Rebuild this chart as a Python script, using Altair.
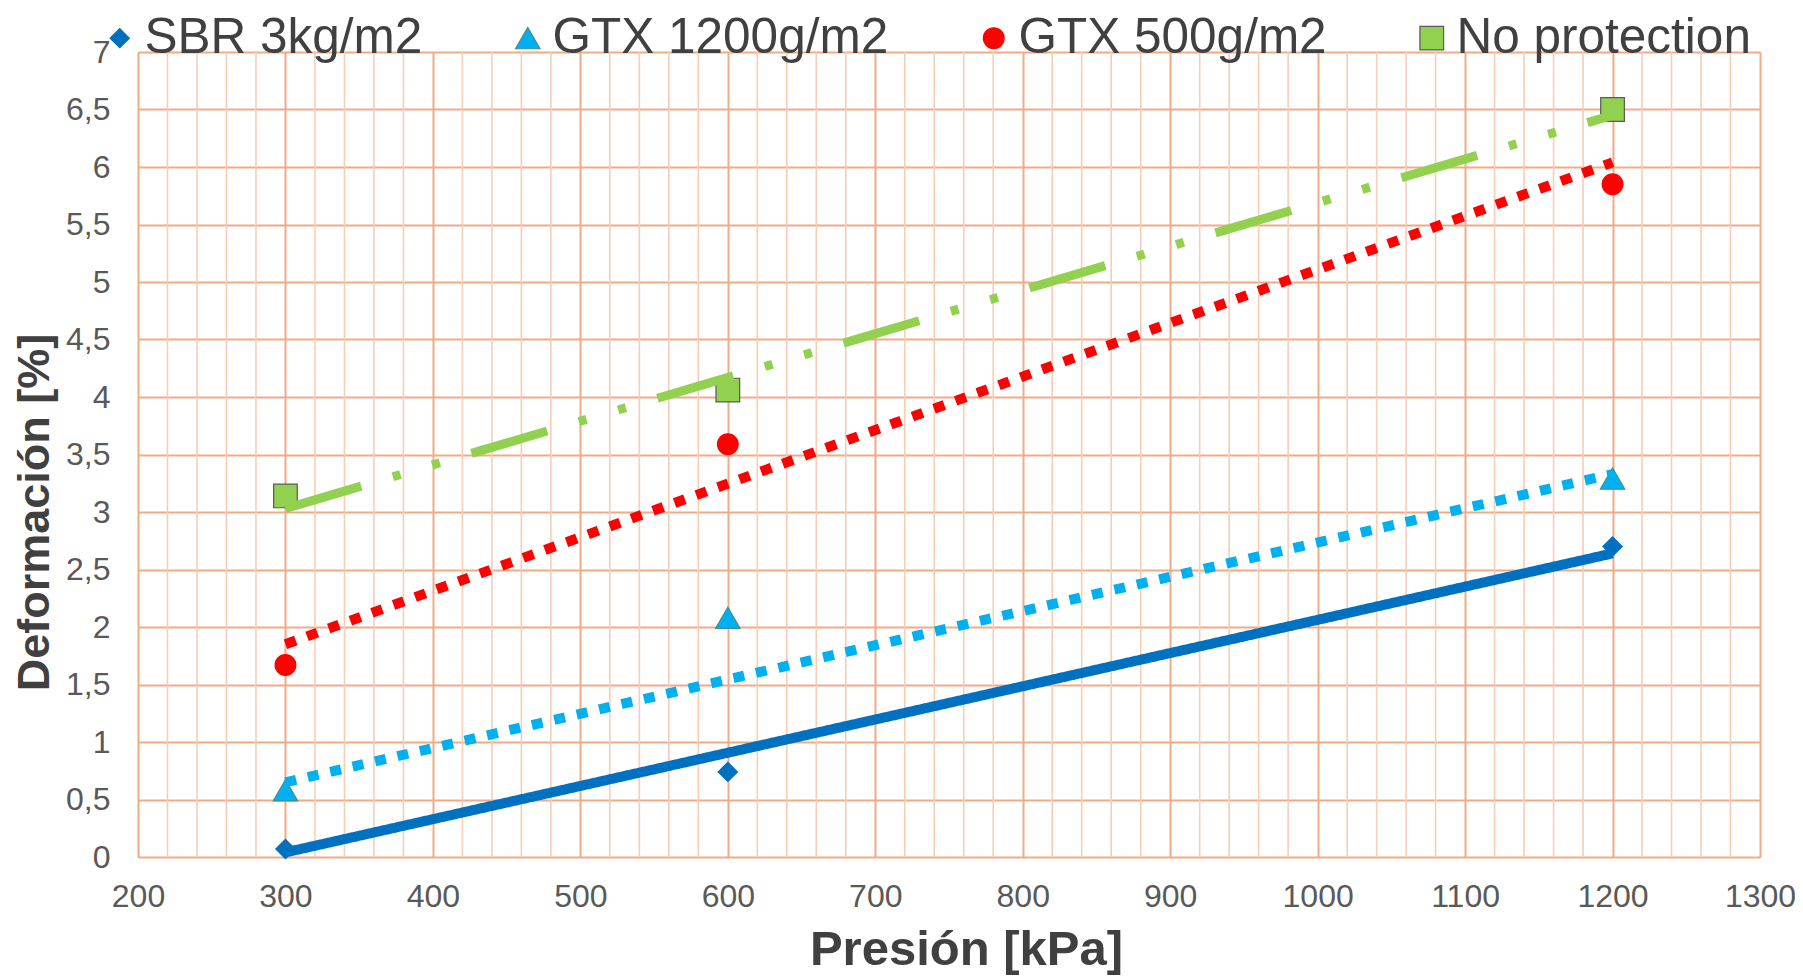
import altair as alt
import pandas as pd

# ---- data ----
series = ["SBR 3kg/m2", "GTX 1200g/m2", "GTX 500g/m2", "No protection"]
pressure = [300, 600, 1200]
sbr = [0.07, 0.74, 2.70]
gtx1200 = [0.58, 2.08, 3.29]
gtx500 = [1.67, 3.59, 5.85]
noprot = [3.14, 4.06, 6.50]

# trend lines (values at 300 and 1200 kPa)
trend_x = [300, 1200]
trend_sbr = [0.04, 2.64]
trend_gtx1200 = [0.65, 3.33]
trend_gtx500 = [1.85, 6.04]
trend_noprot = [3.03, 6.45]

x_major = [200, 300, 400, 500, 600, 700, 800, 900, 1000, 1100, 1200, 1300]
x_minor = [v for v in range(200, 1301, 20) if v % 100 != 0]
y_ticks = [0, 0.5, 1, 1.5, 2, 2.5, 3, 3.5, 4, 4.5, 5, 5.5, 6, 6.5, 7]

# ---- styles ----
shapes = ["diamond", "triangle-up", "circle", "square"]
fills = ["#0070C0", "#00B0F0", "#FF0000", "#92D050"]
strokes = ["#0070C0", "#3F8F96", "#FF0000", "#595959"]
sizes = [370, 600, 430, 560]
line_colors = ["#0070C0", "#00B0F0", "#FF0000", "#92D050"]
line_dash = [[1, 0], [11, 12], [11, 12], [79, 33, 8, 33, 8, 33]]
line_width = [10, 10, 10, 9]

values = [sbr, gtx1200, gtx500, noprot]
trends = [trend_sbr, trend_gtx1200, trend_gtx500, trend_noprot]

pts = pd.DataFrame(
    [{"Serie": s, "P": p, "D": v} for s, vals in zip(series, values) for p, v in zip(pressure, vals)]
)
lines = pd.DataFrame(
    [{"Serie": s, "P": p, "D": v} for s, vals in zip(series, trends) for p, v in zip(trend_x, vals)]
)
minor = pd.DataFrame({"P": x_minor})

FONT = "Liberation Sans"
GRID_MAJOR = "#F2AA85"
GRID_MINOR = "#F8CDB6"

xscale = alt.Scale(domain=[200, 1300], nice=False, zero=False)
yscale = alt.Scale(domain=[0, 7], nice=False)

x_axis = alt.Axis(
    values=x_major, orient="bottom", grid=True, gridColor=GRID_MAJOR, gridWidth=2,
    ticks=False, domain=False, format="d", labelFlush=False,
    labelFont=FONT, labelFontSize=32, labelColor="#595959",
    labelPadding=24, title="Presión [kPa]", titleFont=FONT, titleFontSize=49,
    titleFontWeight="bold", titleColor="#404040", titlePadding=13, titleX=828,
)
y_axis = alt.Axis(
    values=y_ticks, orient="left", grid=True, gridColor=GRID_MAJOR, gridWidth=2,
    ticks=False, domain=False, format=".1~f", labelExpr="replace(datum.label, '.', ',')",
    labelFont=FONT, labelFontSize=32, labelColor="#595959", labelPadding=28,
    labelFlush=False,
    title="Deformación [%]", titleFont=FONT, titleFontSize=45, titleFontWeight="bold",
    titleColor="#404040", titlePadding=8, titleY=460,
)

legend = alt.Legend(
    title=None, orient="none", legendX=-43, legendY=-39, direction="horizontal",
    columns=4, columnPadding=80, labelFont=FONT, labelFontSize=49.5, labelColor="#404040",
    labelOffset=0, labelLimit=700, symbolStrokeWidth=1.2,
)

X = alt.X("P:Q", scale=xscale, axis=x_axis)
Y = alt.Y("D:Q", scale=yscale, axis=y_axis)

minor_grid = alt.Chart(minor).mark_rule(color=GRID_MINOR, strokeWidth=1.6).encode(x=X)

points = alt.Chart(pts).mark_point(filled=True, opacity=1, strokeWidth=1.2).encode(
    x=X,
    y=Y,
    fill=alt.Fill("Serie:N", scale=alt.Scale(domain=series, range=fills), legend=legend),
    stroke=alt.Stroke("Serie:N", scale=alt.Scale(domain=series, range=strokes), legend=legend),
    shape=alt.Shape("Serie:N", scale=alt.Scale(domain=series, range=shapes), legend=legend),
    size=alt.Size("Serie:N", scale=alt.Scale(type="ordinal", domain=series, range=sizes), legend=legend),
)

line_layers = []
for i, s in enumerate(series):
    layer = alt.Chart(lines).transform_filter(alt.datum.Serie == s).mark_line(
        color=line_colors[i], strokeWidth=line_width[i], strokeDash=line_dash[i], strokeCap="butt"
    ).encode(x=X, y=Y)
    line_layers.append(layer)

chart = alt.layer(minor_grid, points, *line_layers).properties(
    width=1622, height=805,
    autosize=alt.AutoSizeParams(type="none"),
    padding={"left": 130, "top": 44, "right": 35, "bottom": 119},
).configure_view(stroke=None).configure(background="white")

chart.save("out.html", embed_options={"renderer": "svg", "actions": False})
